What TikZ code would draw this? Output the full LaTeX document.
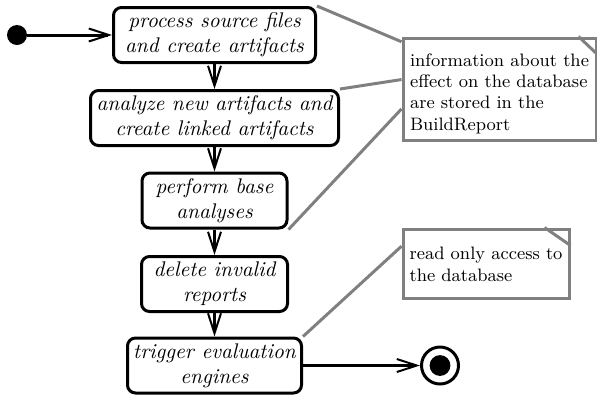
\documentclass[tikz,border=0pt]{standalone}
\usepackage{fontspec}
\usetikzlibrary{arrows.meta,calc}
\definecolor{notegray}{RGB}{128,128,128}
\begin{document}
\begin{tikzpicture}[x=0.5pt,y=-0.5pt,
  action/.style={draw, line width=1.5pt, rounded corners=4pt, fill=white,
    align=center, font=\fontsize{10.6}{12.5}\selectfont\itshape,
    inner sep=1pt, minimum height=27.5pt},
  flow/.style={line width=1.5pt,
    -{Straight Barb[length=10pt,width=6.5pt,line width=1pt]}},
  note/.style={draw=notegray, line width=1.5pt, fill=white, inner sep=0pt},
  notetext/.style={align=left, font=\fontsize{9}{10.7}\selectfont, inner sep=0pt},
  link/.style={draw=notegray, line width=1.5pt},
  fold/.style={draw=notegray, line width=1.5pt}]
\useasboundingbox (0,0) rectangle (597,397);

% activities
\node[action, minimum width=101pt] (b1) at (214.5,35) {process source files\\and create artifacts};
\node[action, minimum width=124pt] (b2) at (214.5,118) {analyze new artifacts and\\create linked artifacts};
\node[action, minimum width=72.5pt] (b3) at (214.5,200.5) {perform base\\analyses};
\node[action, minimum width=73pt] (b4) at (214.5,284) {delete invalid\\reports};
\node[action, minimum width=87pt] (b5) at (214.5,365.5) {trigger evaluation\\engines};

% start and end states
\node[circle, fill=black, minimum size=10pt, inner sep=0pt] (init) at (17,35) {};
\node[circle, draw, line width=1.5pt, fill=white, minimum size=18.5pt, inner sep=0pt] (final) at (440,365.5) {};
\fill (final.center) circle (5.2pt);

% notes
\node[note, minimum width=96.5pt, minimum height=51pt] (n1) at (499.5,89) {};
\draw[fold] ($(n1.north east)+(-19,0)$) -- ($(n1.north east)+(0,18)$);
\node[notetext] (t1) at ($(n1.center)+(0,4.5)$)
  {information about the\\effect on the database\\are stored in the\\BuildReport};
\node[note, minimum width=83pt, minimum height=34.5pt] (n2) at (486,263.5) {};
\draw[fold] ($(n2.north east)+(-26,0)$) -- ($(n2.north east)+(0,18)$);
\node[notetext] (t2) at ($(n2.center)+(0,1)$) {read only access to\\the database};

% note attachments
\draw[link] (b1.north east) -- ($(n1.north west)!0.05!(n1.south west)$);
\draw[link] (b2.north east) -- ($(n1.north west)!0.41!(n1.south west)$);
\draw[link] (b3.south east) -- ($(n1.north west)!0.69!(n1.south west)$);
\draw[link] (b5.north east) -- ($(n2.north west)!0.26!(n2.south west)$);

% control flow
\draw[flow] (init) -- (b1.west);
\draw[flow] (b1.south) -- (b2.north);
\draw[flow] (b2.south) -- (b3.north);
\draw[flow] (b3.south) -- (b4.north);
\draw[flow] (b4.south) -- (b5.north);
\draw[flow] (b5.east) -- (final.west);
\end{tikzpicture}
\end{document}
